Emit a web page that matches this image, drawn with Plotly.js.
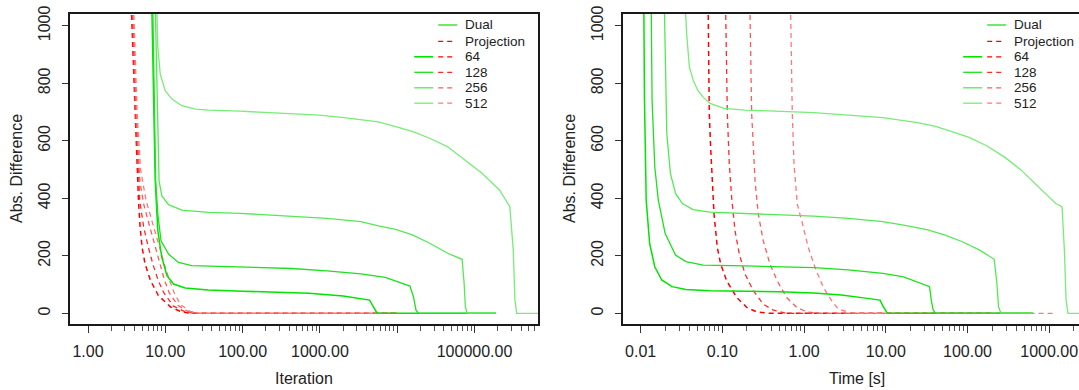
<!DOCTYPE html>
<html><head><meta charset="utf-8">
<script src="https://cdn.plot.ly/plotly-3.0.1.min.js"></script>
<style>html,body{margin:0;padding:0;background:#fff;overflow:hidden}</style>
</head><body><div id="chart" style="width:1079px;height:390px"></div>
<script>
// ---------------- data ----------------
const sizes = ["64", "128", "256", "512"];
const methods = ["Dual", "Projection"];

// Left panel: x = iteration
const dualIter64X  = [6.6, 7.0, 7.4, 8.0, 9.0, 10.5, 12.8, 18.1, 36, 100, 300, 724, 2000, 3000, 4400, 4900, 5200, 5430, 6000, 190000];
const dualIter64Y  = [1150, 750, 461, 287, 195, 131, 102, 88, 81, 77, 74, 70, 60, 53, 46, 23, 8, 3, 0, 0];
const dualIter128X = [6.8, 7.2, 7.5, 8.0, 8.8, 11.0, 14.8, 22, 36, 93, 436, 1230, 3400, 7000, 12000, 14600, 16200, 17500, 18800, 190000];
const dualIter128Y = [1150, 700, 461, 345, 252, 206, 177, 166, 164, 162, 156, 148, 137, 125, 105, 95, 58, 11, 0, 0];
const dualIter256X = [7.3, 8.0, 8.3, 9.0, 11.0, 16.4, 36, 93, 436, 1230, 3400, 5700, 9550, 16000, 26700, 45000, 69000, 73400, 76000, 80500, 190000];
const dualIter256Y = [1150, 577, 461, 409, 378, 359, 351, 348, 338, 330, 319, 304, 292, 272, 243, 209, 188, 104, 23, 0, 0];
const dualIter512X = [7.6, 8.0, 8.6, 9.96, 12.2, 16.4, 24.4, 36.3, 93, 436, 990, 2040, 5700, 9550, 16000, 26700, 45000, 75000, 125000, 210000, 286000, 317000, 333000, 351000, 700000];
const dualIter512Y = [1150, 925, 832, 774, 745, 722, 710, 707, 703, 695, 689, 681, 666, 649, 632, 608, 579, 533, 487, 429, 371, 220, 46, 0, 0];

const projIter64X  = [3.59, 4.07, 4.50, 4.72, 5.01, 5.48, 6.46, 8.13, 11.7, 16.2, 21.4, 10000];
const projIter64Y  = [1100, 694, 391, 300, 229, 171, 113, 62, 22, 5, 0, 0];
const projIter128X = [3.67, 4.12, 4.68, 5.25, 6.03, 6.92, 8.13, 9.55, 12.6, 17.8, 23.4, 10000];
const projIter128Y = [1100, 694, 390, 300, 230, 170, 113, 72, 26, 6, 0, 0];
const projIter256X = [3.76, 4.22, 4.68, 5.25, 6.31, 7.41, 8.51, 9.77, 11.2, 14.5, 19.5, 25.7, 10000];
const projIter256Y = [1100, 694, 460, 380, 300, 230, 170, 115, 72, 28, 7, 0, 0];
const projIter512X = [3.85, 4.32, 4.79, 5.62, 7.08, 8.71, 10, 11.5, 13.1, 15.8, 20.9, 28.2, 10000];
const projIter512Y = [1100, 694, 500, 394, 300, 210, 160, 110, 70, 30, 7, 0, 0];

// Right panel: x = time [s]
const dualTime64X  = [0.01092, 0.01114, 0.01169, 0.01288, 0.01489, 0.01811, 0.02427, 0.03581, 0.0708, 0.1875, 0.4966, 1.315, 2.871, 5.675, 8.511, 9.333, 10.0, 10.47, 631];
const dualTime64Y  = [1100, 742, 394, 243, 162, 116, 93, 83, 79, 78, 75, 71, 64, 53, 46, 23, 6, 0, 0];
const dualTime128X = [0.01343, 0.01380, 0.01489, 0.01644, 0.01995, 0.02673, 0.03581, 0.05834, 0.1875, 0.4966, 1.315, 3.483, 9.226, 16.56, 29.72, 34.36, 36.06, 38.02, 40.74, 631];
const dualTime128Y = [1100, 742, 510, 394, 278, 203, 180, 168, 165, 162, 159, 151, 139, 127, 98, 93, 46, 12, 0, 0];
const dualTime256X = [0.01941, 0.01995, 0.02089, 0.02312, 0.02673, 0.03251, 0.04365, 0.07079, 0.1875, 0.4966, 1.315, 3.483, 9.226, 16.56, 32.73, 53.33, 86.70, 141.3, 212.3, 229.1, 239.9, 257.0, 631];
const dualTime256Y = [1100, 857, 626, 487, 417, 382, 361, 352, 348, 344, 338, 330, 319, 307, 290, 272, 249, 220, 188, 104, 23, 0, 0];
const dualTime512X = [0.03467, 0.03656, 0.03945, 0.04416, 0.05012, 0.05848, 0.07079, 0.1047, 0.1875, 0.4966, 1.315, 3.483, 9.226, 24.43, 39.81, 64.57, 104.7, 171.4, 279.3, 454.0, 739.6, 1202, 1436, 1535, 1611, 1698, 3162];
const dualTime512Y = [1100, 973, 857, 809, 775, 751, 730, 713, 707, 703, 698, 689, 681, 663, 651, 632, 612, 583, 545, 498, 440, 382, 371, 220, 46, 0, 0];

const projTime64X  = [0.0668, 0.0692, 0.0719, 0.0762, 0.0791, 0.0867, 0.0955, 0.1130, 0.1500, 0.1986, 0.2630, 0.3828, 200];
const projTime64Y  = [1100, 693, 577, 461, 345, 229, 171, 113, 55, 21, 5, 0, 0];
const projTime128X = [0.1091, 0.1151, 0.1216, 0.1300, 0.1429, 0.1614, 0.1892, 0.2393, 0.3170, 0.4207, 0.6124, 260];
const projTime128Y = [1100, 693, 519, 403, 287, 206, 137, 79, 32, 11, 0, 0];
const projTime256X = [0.2163, 0.2286, 0.2512, 0.2754, 0.3170, 0.3828, 0.4699, 0.6124, 0.8128, 1.076, 1.567, 610];
const projTime256Y = [1100, 693, 461, 345, 252, 171, 113, 55, 21, 5, 0, 0];
const projTime512X = [0.6808, 0.7178, 0.7534, 0.8260, 0.9354, 1.127, 1.361, 1.722, 2.178, 2.624, 3.648, 4.467, 1180];
const projTime512Y = [1100, 693, 519, 380, 322, 229, 160, 90, 44, 15, 2, 0, 0];

const yTicks = [0, 200, 400, 600, 800, 1000];
const iterTickVals = [1, 10, 100, 1000, 10000, 100000];
const iterTickText = ["1.00", "10.00", "100.00", "1000.00", "", "100000.00"];
const timeTickVals = [0.01, 0.1, 1, 10, 100, 1000];
const timeTickText = ["0.01", "0.10", "1.00", "10.00", "100.00", "1000.00"];

// ---------------- styles ----------------
const greens = ["#00e400", "#1ee01e", "#55e855", "#77ec77"];
const reds   = ["#ff0000", "#ff2a2a", "#ff5a5a", "#ff7878"];
const W = 1079, H = 390;
const px = v => v / W, py = v => (H - v) / H;
const FONT = "Liberation Sans, Arial, Helvetica, sans-serif";

const dualIter = [[dualIter64X, dualIter64Y], [dualIter128X, dualIter128Y], [dualIter256X, dualIter256Y], [dualIter512X, dualIter512Y]];
const projIter = [[projIter64X, projIter64Y], [projIter128X, projIter128Y], [projIter256X, projIter256Y], [projIter512X, projIter512Y]];
const dualTime = [[dualTime64X, dualTime64Y], [dualTime128X, dualTime128Y], [dualTime256X, dualTime256Y], [dualTime512X, dualTime512Y]];
const projTime = [[projTime64X, projTime64Y], [projTime128X, projTime128Y], [projTime256X, projTime256Y], [projTime512X, projTime512Y]];

const traces = [];
function add(set, xa, ya, colors, dash, name) {
  set.forEach((s, i) => {
    traces.push({x: s[0], y: s[1], xaxis: xa, yaxis: ya, type: "scatter", mode: "lines",
      name: name + " " + sizes[i], showlegend: false, hoverinfo: "skip",
      line: {color: colors[i], width: i === 0 ? 1.5 : 1.3, dash: dash}});
  });
}
// draw order: projection first then dual
add(projIter, "x", "y", reds, "5px,4px", methods[1]);
add(dualIter, "x", "y", greens, "solid", methods[0]);
add(projTime, "x2", "y2", reds, "5px,4px", methods[1]);
add(dualTime, "x2", "y2", greens, "solid", methods[0]);

function minorVals(d0, d1) {
  const out = [];
  for (let d = d0; d <= d1; d++) for (let k = 2; k <= 9; k++) out.push(k * Math.pow(10, d));
  return out;
}

const axisCommon = {
  showgrid: false, zeroline: false, showline: true, linecolor: "#1a1a1a", linewidth: 2,
  ticks: "outside", ticklen: 7, tickwidth: 1, tickcolor: "#333",
  tickfont: {family: FONT, size: 16, color: "#222"}, fixedrange: true
};

const layout = {
  width: W, height: H, margin: {l: 0, r: 0, t: 0, b: 0},
  paper_bgcolor: "#fff", plot_bgcolor: "#fff", showlegend: false,
  xaxis: Object.assign({}, axisCommon, {
    type: "log", range: [-0.233, 5.821], domain: [px(70), px(538)], anchor: "y", mirror: true,
    tickmode: "array", tickvals: iterTickVals, ticktext: iterTickText, ticklabelstandoff: 5,
    minor: {tickmode: "array", tickvals: minorVals(0, 5), ticklen: 5, tickcolor: "#555", tickwidth: 1, showgrid: false}
  }),
  yaxis: Object.assign({}, axisCommon, {
    range: [-37, 1041], domain: [py(324), py(14)], anchor: "x", mirror: true,
    tickmode: "array", tickvals: yTicks, tickangle: -90, ticklen: 6, ticklabelstandoff: 6
  }),
  xaxis2: Object.assign({}, axisCommon, {
    type: "log", range: [-2.216, 3.365], domain: [px(623), 1], anchor: "y2", mirror: true,
    tickmode: "array", tickvals: timeTickVals, ticktext: timeTickText, ticklabelstandoff: 5,
    minor: {tickmode: "array", tickvals: minorVals(-2, 3), ticklen: 5, tickcolor: "#555", tickwidth: 1, showgrid: false}
  }),
  yaxis2: Object.assign({}, axisCommon, {
    range: [-37, 1041], domain: [py(324), py(14)], anchor: "x2", mirror: false,
    tickmode: "array", tickvals: yTicks, tickangle: -90, ticklen: 6, ticklabelstandoff: 6
  }),
  shapes: [], annotations: []
};

// axis titles
const titleFont = {family: FONT, size: 16, color: "#222"};
layout.annotations.push(
  {text: "Iteration", xref: "paper", yref: "paper", x: px(304), y: py(378), showarrow: false, font: titleFont, xanchor: "center", yanchor: "middle"},
  {text: "Time [s]", xref: "paper", yref: "paper", x: px(857), y: py(378), showarrow: false, font: titleFont, xanchor: "center", yanchor: "middle"},
  {text: "Abs. Difference", xref: "paper", yref: "paper", x: px(16), y: py(169), showarrow: false, font: titleFont, textangle: -90, xanchor: "center", yanchor: "middle"},
  {text: "Abs. Difference", xref: "paper", yref: "paper", x: px(569), y: py(169), showarrow: false, font: titleFont, textangle: -90, xanchor: "center", yanchor: "middle"}
);

// legends (drawn like R's legend with two line columns)
function legend(textX) {
  const rowY = [25, 41.3, 56.8, 72.3, 87.8, 103.2];
  const labels = [methods[0], methods[1]].concat(sizes);
  const gA = [textX - 48.5, textX - 29.5];   // green column for size rows
  const rB = [textX - 24.5, textX - 9.5];    // red column / Dual sample
  const lf = {family: FONT, size: 13.5, color: "#222"};
  labels.forEach((lab, i) => {
    layout.annotations.push({text: lab, xref: "paper", yref: "paper", x: px(textX), y: py(rowY[i]),
      showarrow: false, font: lf, xanchor: "left", yanchor: "middle"});
  });
  // Dual sample
  layout.shapes.push({type: "line", xref: "paper", yref: "paper", x0: px(rB[0]), x1: px(rB[1] + 4), y0: py(rowY[0]), y1: py(rowY[0]),
    line: {color: greens[1], width: 1.3}});
  // Projection sample
  layout.shapes.push({type: "line", xref: "paper", yref: "paper", x0: px(rB[0]), x1: px(rB[1]), y0: py(rowY[1]), y1: py(rowY[1]),
    line: {color: reds[0], width: 1.3, dash: "5px,4px"}});
  sizes.forEach((s, i) => {
    const yy = py(rowY[i + 2]);
    layout.shapes.push({type: "line", xref: "paper", yref: "paper", x0: px(gA[0]), x1: px(gA[1]), y0: yy, y1: yy,
      line: {color: greens[i], width: i === 0 ? 1.6 : 1.3}});
    layout.shapes.push({type: "line", xref: "paper", yref: "paper", x0: px(rB[0]), x1: px(rB[1]), y0: yy, y1: yy,
      line: {color: reds[i], width: 1.3, dash: "5px,4px"}});
  });
}
legend(462.7);
legend(1011.7);

Plotly.newPlot("chart", traces, layout, {staticPlot: true, displayModeBar: false});
</script>
</body></html>
